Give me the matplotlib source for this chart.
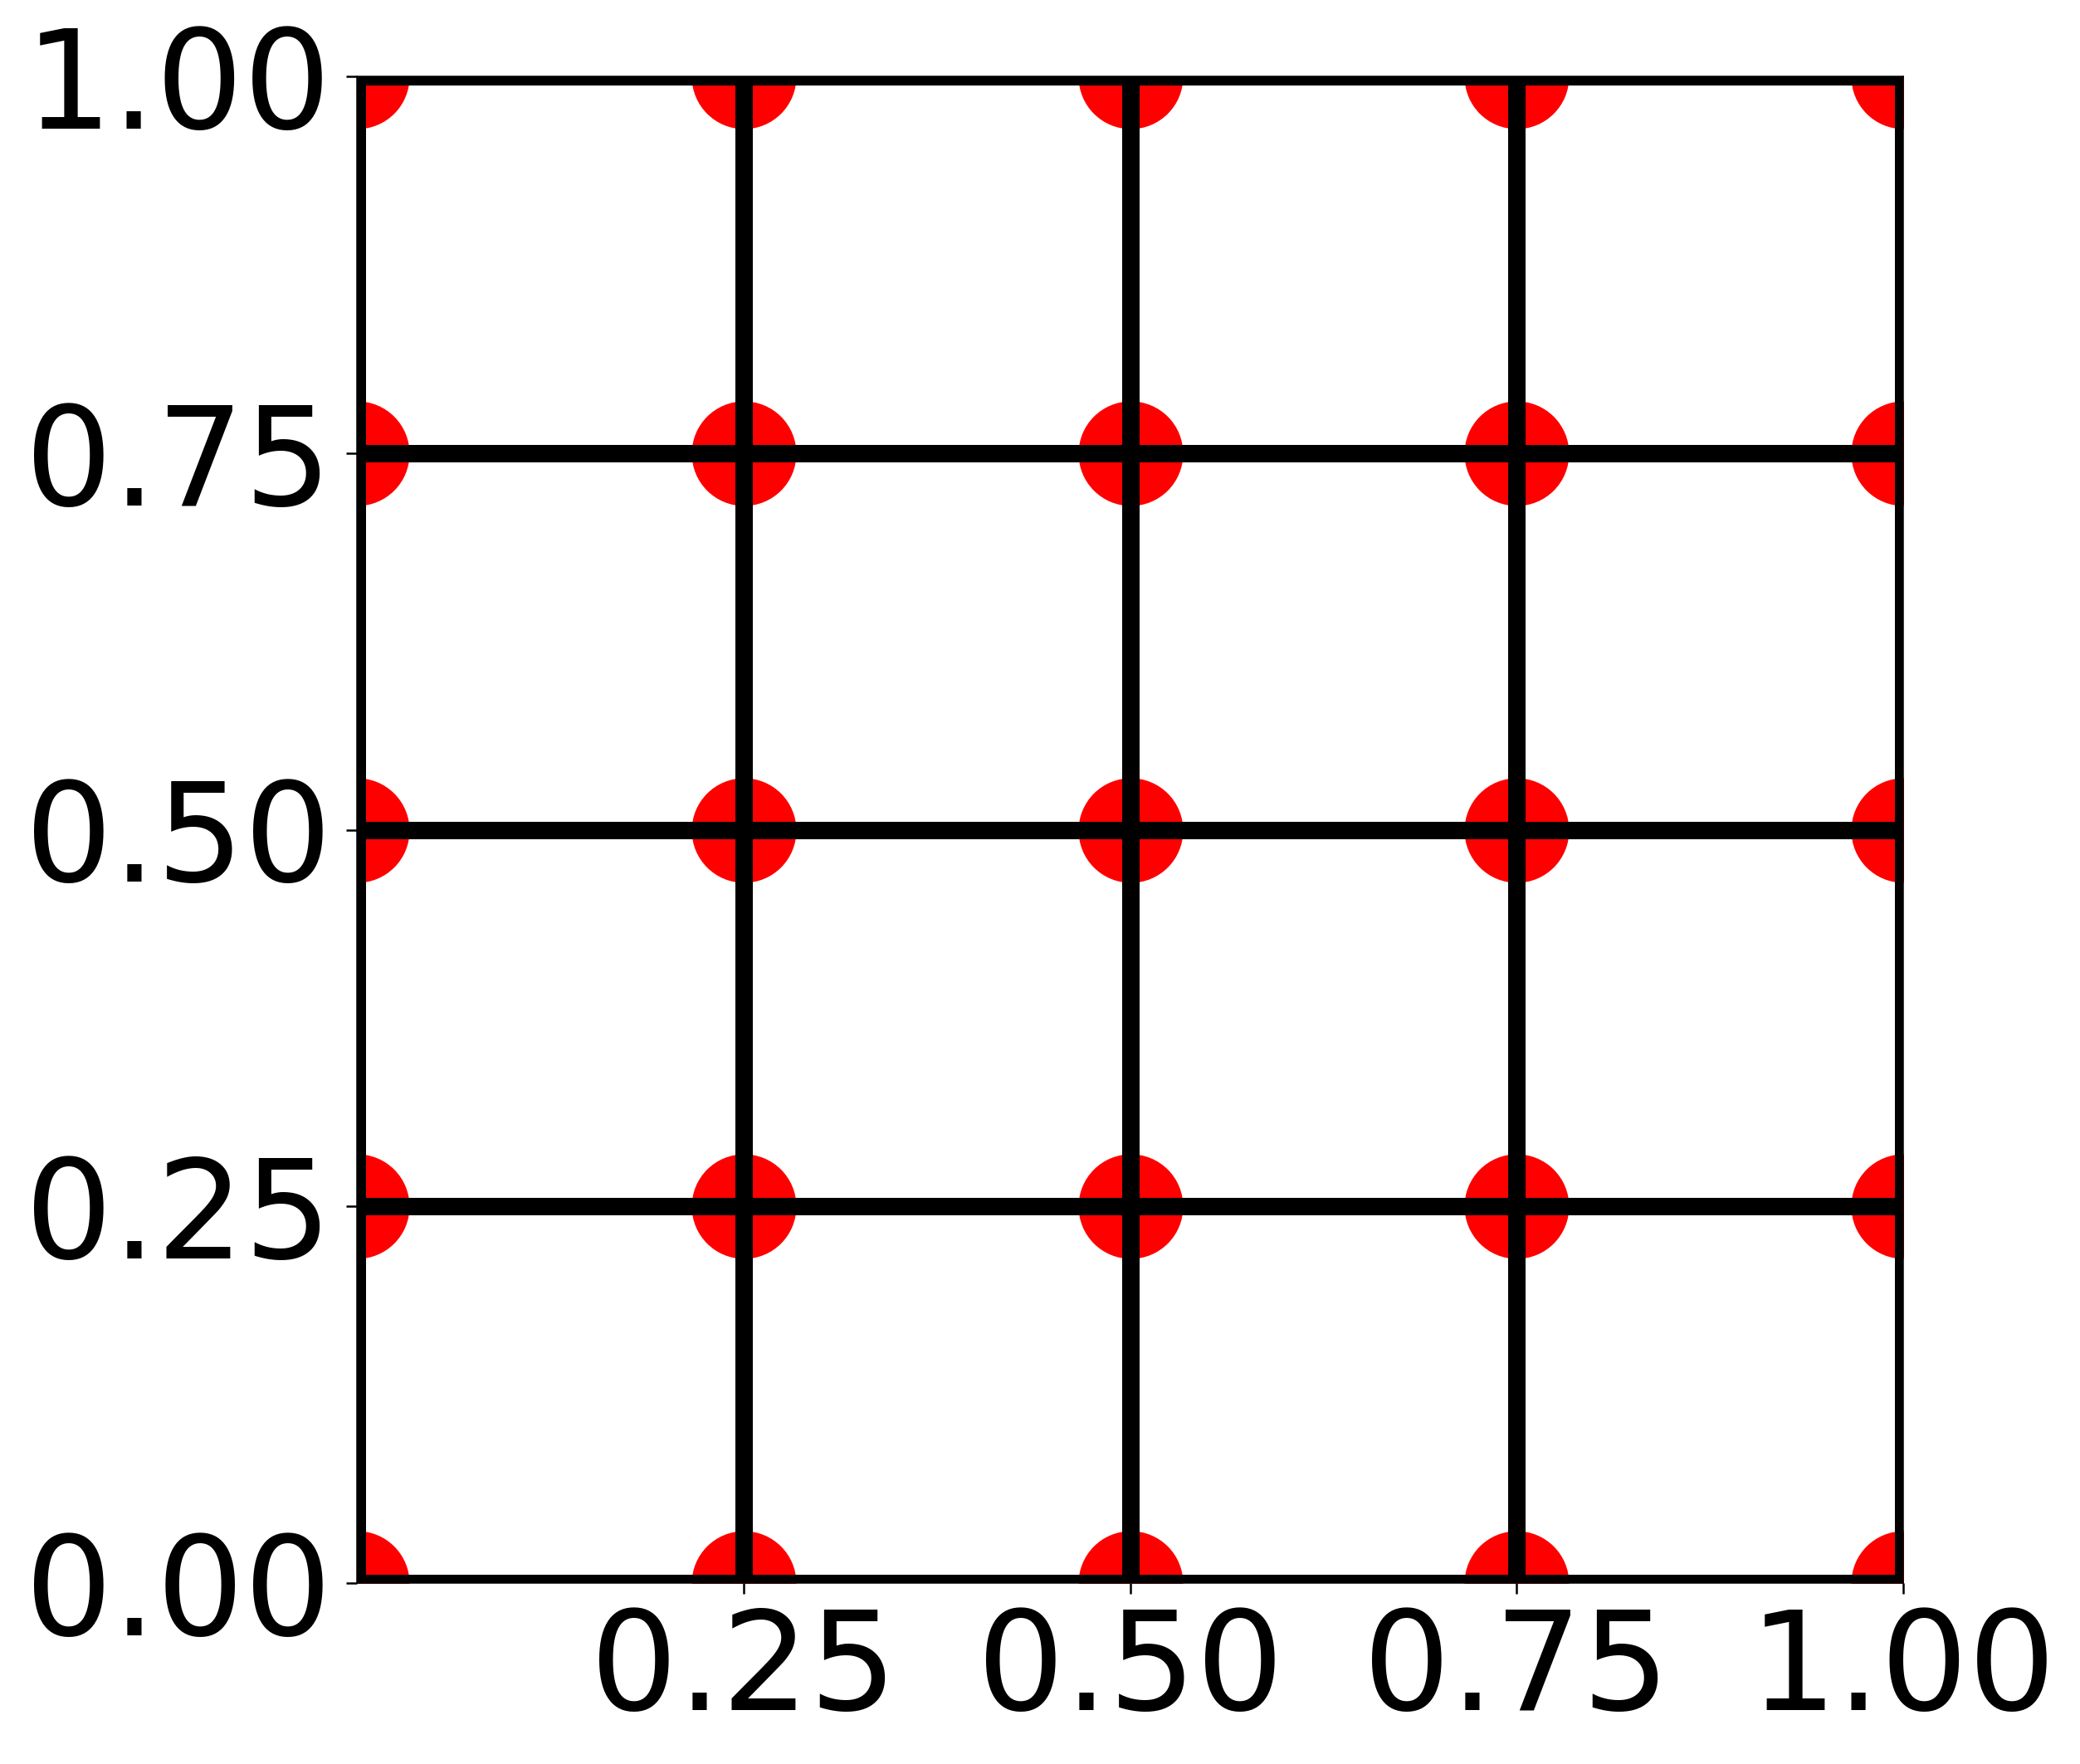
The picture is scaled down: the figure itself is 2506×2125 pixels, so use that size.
import numpy as np
import matplotlib
matplotlib.use("Agg")
import matplotlib.pyplot as plt

# values
dot_x = [0.0, 0.25, 0.5, 0.75, 1.0]
dot_y = [0.0, 0.25, 0.5, 0.75, 1.0]
vlines_x = [0.0, 0.25, 0.5, 0.75, 1.0]
hlines_y = [0.0, 0.25, 0.5, 0.75, 1.0]
xticks = [0.25, 0.5, 0.75, 1.0]
yticks = [0.0, 0.25, 0.5, 0.75, 1.0]

DPI = 72
fig = plt.figure(figsize=(2506 / DPI, 2125 / DPI), dpi=DPI)
ax = fig.add_axes([430 / 2506, 1 - 1907 / 2125, (2293 - 430) / 2506, (1907 - 92) / 2125])

gx, gy = np.meshgrid(dot_x, dot_y)
ax.scatter(gx.ravel(), gy.ravel(), s=126 ** 2, c="red", linewidths=0, zorder=2)

for x in vlines_x:
    ax.axvline(x, color="black", lw=21, zorder=3)
for y in hlines_y:
    ax.axhline(y, color="black", lw=21, zorder=3)

ax.set_xlim(0, 1)
ax.set_ylim(0, 1)
ax.set_xticks(xticks)
ax.set_yticks(yticks)
ax.set_xticklabels([f"{t:.2f}" for t in xticks])
ax.set_yticklabels([f"{t:.2f}" for t in yticks])
ax.tick_params(axis="both", length=13, width=2.5, labelsize=166)
ax.tick_params(axis="x", pad=14)
ax.tick_params(axis="y", pad=17)
for spine in ax.spines.values():
    spine.set_linewidth(1.5)

fig.savefig("out.png", dpi=DPI)
